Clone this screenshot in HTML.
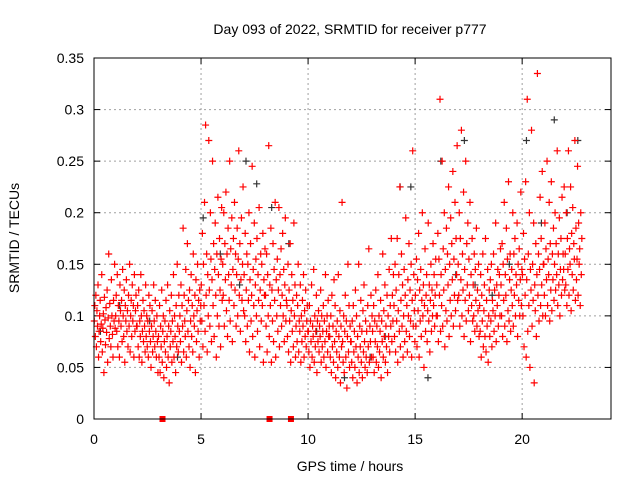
<!DOCTYPE html>
<html><head><meta charset="utf-8"><style>
body{margin:0;background:#fff}
svg{display:block;font-family:"Liberation Sans",sans-serif}
</style></head><body>
<svg id="c" width="640" height="480" xmlns="http://www.w3.org/2000/svg"></svg>
<script>
// values in thousandths of TECU, one row per hour (spaced 1/40 h)
const redRows = [
[95,110,80,120,70,105,90,130,60,85,100,115,75,92,140,65,88,102,45,118,96,72,108,84,125,55,98,160,78,112,90,70,135,100,82,60,115,95,150,88],
[100,120,85,140,70,110,95,60,130,105,90,115,75,145,100,80,125,55,110,95,135,85,105,70,120,90,150,65,100,115,80,130,95,110,60,140,85,105,120,90],
[90,110,70,125,60,95,80,140,100,55,85,115,75,105,90,65,130,80,100,70,95,60,120,85,110,75,50,90,105,65,80,130,95,70,115,85,60,100,75,45],
[80,60,110,45,90,70,125,55,85,100,40,75,95,65,115,50,80,130,60,90,35,105,70,85,120,55,95,75,140,60,100,80,45,110,70,150,90,65,120,85],
[100,75,130,55,110,90,185,65,120,95,80,145,60,105,170,85,115,70,125,50,95,140,80,110,65,160,100,90,120,45,135,75,105,150,85,115,60,125,95,110],
[130,95,180,70,150,110,210,85,285,120,160,65,140,100,270,125,90,200,155,75,135,250,110,170,80,145,190,120,60,160,100,215,140,90,175,125,70,155,205,115],
[150,120,200,90,170,135,220,105,160,80,185,140,115,250,95,165,130,195,75,145,175,110,210,125,160,90,140,185,100,155,260,120,170,85,135,195,115,150,225,105],
[140,100,180,75,125,160,90,150,115,200,65,135,170,95,120,245,80,145,110,190,60,130,155,100,175,85,140,115,205,70,125,160,95,150,110,180,55,135,120,165],
[120,90,160,65,140,100,265,80,130,110,185,55,125,95,170,75,145,115,210,60,135,100,155,85,125,205,70,140,110,165,90,120,180,100,145,75,130,195,95,115],
[110,80,150,65,125,95,170,55,105,140,85,115,70,190,100,130,60,90,120,75,110,150,65,95,85,130,55,100,75,115,90,140,60,105,80,125,70,95,110,85],
[85,65,110,50,95,75,130,60,90,80,145,55,100,70,85,120,45,95,75,105,65,90,80,125,55,100,70,85,110,60,95,75,140,50,85,100,65,115,80,90],
[80,60,100,45,120,70,90,55,135,75,110,40,85,65,95,50,140,80,60,105,35,90,70,210,75,55,100,45,85,120,60,95,30,80,150,65,110,50,90,75],
[75,55,95,40,110,65,85,50,125,70,100,35,80,60,150,45,90,70,115,55,85,40,105,65,130,75,50,95,60,85,45,110,70,165,55,90,75,120,60,100],
[85,60,110,45,95,75,125,55,90,70,140,50,100,65,85,115,40,95,75,160,60,105,80,130,55,90,70,120,45,100,80,145,65,110,90,175,75,120,95,140],
[110,80,150,65,125,95,175,55,105,140,85,225,70,115,160,90,130,60,100,145,75,120,195,85,110,65,135,100,170,80,125,95,150,60,115,260,90,140,105,75],
[120,90,155,70,135,105,180,60,125,95,145,80,115,200,100,130,50,110,165,85,120,140,75,105,190,95,130,65,115,150,85,125,100,170,110,140,90,120,155,100],
[130,100,180,75,155,120,310,85,140,110,250,90,165,125,200,70,145,105,185,95,160,130,225,80,150,115,195,100,170,135,240,90,155,120,210,105,175,140,265,115],
[150,120,200,90,175,135,280,100,160,125,220,80,145,115,250,95,170,130,190,105,155,120,210,75,140,110,175,95,130,100,160,85,145,115,185,90,125,105,150,80],
[110,85,140,60,120,95,160,70,105,130,80,175,65,115,90,145,55,100,125,80,135,95,150,70,115,105,160,85,125,100,190,75,130,110,145,90,120,140,100,165],
[130,100,170,80,150,115,210,90,140,120,185,75,155,105,230,95,135,160,85,125,145,110,200,90,160,120,175,100,140,130,190,80,150,115,165,100,135,220,110,145],
[140,100,180,70,155,120,230,60,135,310,85,160,110,200,50,145,125,280,90,150,115,190,35,130,105,170,80,140,335,120,160,95,145,215,110,175,130,240,100,150],
[150,120,190,100,165,135,250,110,155,140,210,95,170,125,230,105,160,135,185,115,150,200,125,170,140,260,110,160,130,195,100,145,175,120,215,135,160,145,225,125],
[160,130,200,110,175,145,260,120,165,150,225,105,180,140,205,125,170,155,270,115,185,135,155,245,120,190,150,165,110,200,140,175]
];
const blackTimes = [0.3,1.2,2.6,3.9,5.1,5.9,6.8,7.1,7.6,8.3,9.1,10.4,11.7,12.9,13.6,14.3,14.8,15.6,16.2,16.9,17.3,17.8,18.6,19.4,20.2,20.9,21.5,22.1,22.6];
const blackVals  = [0.085,0.11,0.095,0.06,0.195,0.16,0.13,0.25,0.228,0.205,0.17,0.085,0.04,0.06,0.08,0.225,0.225,0.04,0.25,0.14,0.27,0.13,0.12,0.15,0.27,0.19,0.29,0.2,0.27];
const gapTimes = [3.2,8.2,9.2];
const yTicks = [0,0.05,0.1,0.15,0.2,0.25,0.3,0.35];
const yTickLabels = ["0","0.05","0.1","0.15","0.2","0.25","0.3","0.35"];
const xTicks = [0,5,10,15,20];
const xTickLabels = ["0","5","10","15","20"];

const L=94,R=611,T=58,B=419,XMAX=24.15,YMAX=0.35;
const sx=t=>L+t/XMAX*(R-L), sy=v=>B-v/YMAX*(B-T);
const svg=document.getElementById('c');
const NS='http://www.w3.org/2000/svg';
function mk(tag,at,parent){const e=document.createElementNS(NS,tag);for(const k in at)e.setAttribute(k,at[k]);(parent||svg).appendChild(e);return e;}

// grid + ticks
const grid=mk('g',{});


yTicks.forEach((v,i)=>{
  const y=sy(v);
  if(i>0&&i<yTicks.length-1){const g=mk('line',{x1:L,x2:R,y1:y,y2:y,stroke:'#a0a0a0','stroke-dasharray':'2,3'},grid);}
  mk('line',{x1:L,x2:L+6,y1:y,y2:y,stroke:'#000'});
  mk('line',{x1:R,x2:R-6,y1:y,y2:y,stroke:'#000'});
  const t=mk('text',{x:L-10,y:y+5,'text-anchor':'end','font-size':14,fill:'#000'});
  t.textContent=yTickLabels[i];
  
  
});
xTicks.forEach((v,i)=>{
  const x=sx(v);
  if(i>0){mk('line',{x1:x,x2:x,y1:T,y2:B,stroke:'#a0a0a0','stroke-dasharray':'2,3'},grid);}
  mk('line',{x1:x,x2:x,y1:B,y2:B-6,stroke:'#000'});
  mk('line',{x1:x,x2:x,y1:T,y2:T+6,stroke:'#000'});
  const t=mk('text',{x:x,y:444,'text-anchor':'middle','font-size':14,fill:'#000'});
  t.textContent=xTickLabels[i];
  
  
});

// points
function plus(x,y,col,g){mk('path',{d:`M${x-3.5} ${y}h7M${x} ${y-3.5}v7`,stroke:col,'stroke-width':1.2,fill:'none'},g);}
const bg=mk('g',{});


blackTimes.forEach((t,i)=>plus(sx(t),sy(blackVals[i]),'#333',bg));
const rg=mk('g',{});


redRows.forEach((row,h)=>row.forEach((v,j)=>plus(sx(h+(j+0.5)/40),sy(v/1000),'#ff0000',rg)));

// gap markers
gapTimes.forEach(t=>{
  const r=mk('rect',{x:sx(t)-3,y:B-3,width:6,height:6,fill:'#ff0000'});
  
  
});

// frame
const f=mk('rect',{x:L,y:T,width:R-L,height:B-T,fill:'none',stroke:'#000','stroke-width':1});



// labels
const ti=mk('text',{x:350,y:34,'text-anchor':'middle','font-size':14,fill:'#000'});
ti.textContent='Day 093 of 2022, SRMTID for receiver p777';


const xl=mk('text',{x:350,y:471,'text-anchor':'middle','font-size':14,fill:'#000'});
xl.textContent='GPS time / hours';


const yl=mk('text',{x:0,y:0,'text-anchor':'middle','font-size':14,fill:'#000',transform:'translate(19,238) rotate(-90)'});
yl.textContent='SRMTID / TECUs';


</script>
</body></html>
